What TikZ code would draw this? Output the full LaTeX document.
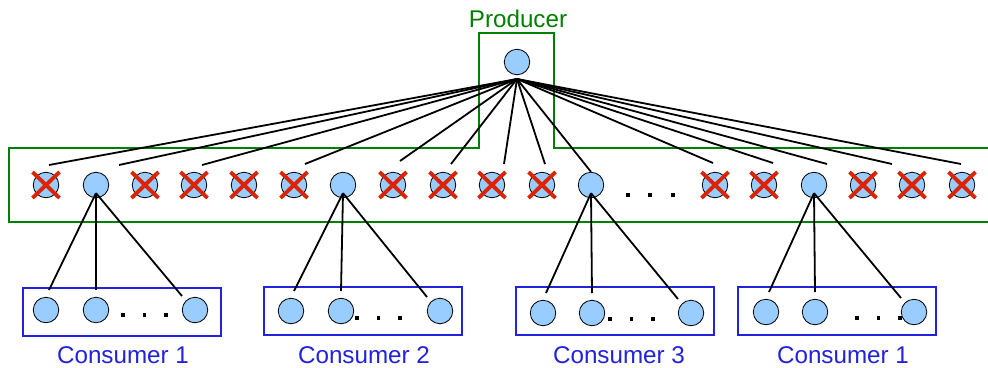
\documentclass[tikz,border=0pt]{standalone}
\usepackage{fontspec}
\setmainfont{Liberation Sans}
\definecolor{nodefill}{RGB}{153,204,255}
\definecolor{prodgreen}{RGB}{0,128,0}
\definecolor{consblue}{RGB}{34,34,221}
\definecolor{crossred}{RGB}{221,34,0}
\begin{document}
\begin{tikzpicture}[x=1pt,y=-1pt,
  peer/.style={circle,draw=black,line width=0.8pt,fill=nodefill,minimum size=25.5pt,inner sep=0pt},
  link/.style={draw=black,line width=1.8pt},
  outline/.style={line width=2pt},
  gone/.style={draw=crossred,line width=3.8pt},
  dotmark/.style={fill=black,minimum size=3.8pt,inner sep=0pt,rectangle},
  txtlabel/.style={font=\fontsize{24.2pt}{28pt}\selectfont,anchor=base,inner sep=0pt}
]
\useasboundingbox (0,0) rectangle (988,367);

% overlay outline with the producer notch
\draw[outline,draw=prodgreen] (988,148) -- (554,148) -- (554,33) -- (479,33) -- (479,148)
  -- (9,148) -- (9,222) -- (988,222);
\node[txtlabel,text=prodgreen] (ptext) at (518,27) {Producer};

% producer
\node[peer] (p) at (517,62) {};
\coordinate (pfan) at (517,79);

% overlay peers
\foreach \i/\x in {1/46,2/96,3/145,4/194,5/244,6/294,7/343,8/393,9/443,10/492,
                   11/542,12/591,13/715,14/764,15/814,16/863,17/912,18/962}
  \node[peer] (m\i) at (\x,185) {};

% removed peers
\foreach \i in {1,3,4,5,6,8,9,10,11,13,14,16,17,18}
  \draw[gone] ([shift={(-13.5,-13)}]m\i.center) -- ([shift={(13.5,13)}]m\i.center)
              ([shift={(-13.5,13)}]m\i.center) -- ([shift={(13.5,-13)}]m\i.center);

\node[dotmark] (md1) at (628,195) {};
\node[dotmark] (md2) at (650,195) {};
\node[dotmark] (md3) at (673,195) {};

% producer fan-out
\foreach \n/\x/\y in {1/49/165,2/119/165,3/202/165,4/305/164,5/400/161,6/451/164,
                      7/504/164,8/545/164,10/713/163,11/773/163,12/827/164,
                      13/892/164,14/961/164}
  \coordinate (f\n) at (\x,\y);
\foreach \n in {1,2,3,4,5,6,7,8,10,11,12,13,14}
  \draw[link] (pfan) -- (f\n);
\draw[link] (pfan) -- (m12.north);

% consumer groups
\foreach \g/\bx/\by/\ax/\bxx/\cx/\cy/\lx/\pid in
  {1/23/288/46/96/195/310/123/2,
   2/264/287/291/341/440/311/364/7,
   3/516/287/543/592/691/313/619/12,
   4/738/287/766/815/914/312/843/15}{
  \draw[outline,draw=consblue] (\bx,\by) rectangle ++(198,48);
  \node[peer] (c\g a) at (\ax,\cy) {};
  \node[peer] (c\g b) at (\bxx,\cy) {};
  \node[peer] (c\g c) at (\cx,\cy) {};
  \node[txtlabel,text=consblue] (cl\g) at (\lx,363) {Consumer \ifnum\g=4 1\else\g\fi};
  \coordinate (s\g) at ([yshift=5]m\pid.south);
  \coordinate (e\g a) at ([shift={(3,-20)}]c\g a.center);
  \coordinate (e\g b) at ([shift={(0,-20)}]c\g b.center);
  \coordinate (e\g c) at ([shift={(-13,-14)}]c\g c.center);
  \draw[link] (s\g) -- (e\g a);
  \draw[link] (s\g) -- (e\g b);
  \draw[link] (s\g) -- (e\g c);
}

% ellipses inside consumer groups
\foreach \g/\x/\y in {1/123/315,2/357/318,3/610/319,4/857/318}{
  \node[dotmark] (cd\g a) at (\x,\y) {};
  \node[dotmark] (cd\g b) at (\x+21.5,\y) {};
  \node[dotmark] (cd\g c) at (\x+43,\y) {};
}
\end{tikzpicture}
\end{document}
